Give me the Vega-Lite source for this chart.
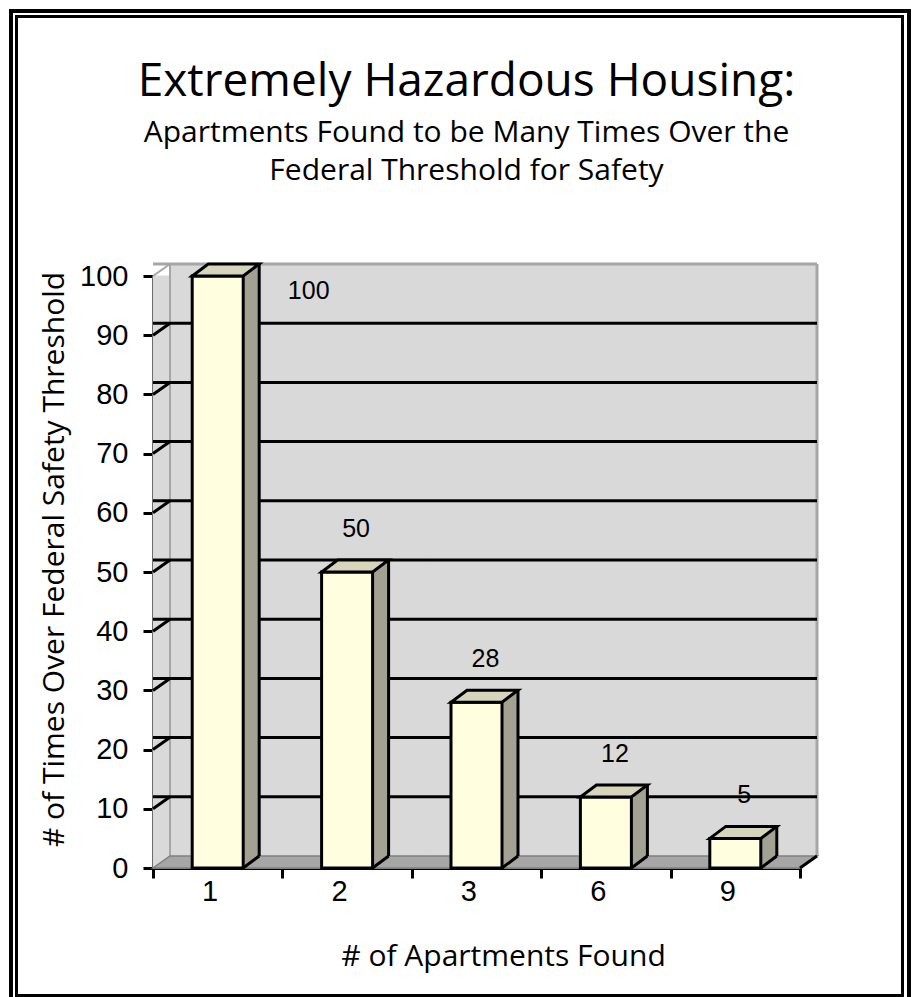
{
  "$schema": "https://vega.github.io/schema/vega-lite/v6.json",
  "autosize": "none",
  "width": 647,
  "height": 592,
  "padding": {"left": 153, "top": 276, "right": 113, "bottom": 129},
  "background": "white",
  "config": {"view": {"stroke": null}},
  "title": {
    "text": "Extremely Hazardous Housing:",
    "subtitle": ["Apartments Found to be Many Times Over the", "Federal Threshold for Safety"],
    "font": "Open Sans",
    "fontSize": 46,
    "fontWeight": "normal",
    "color": "black",
    "subtitleFont": "Open Sans",
    "subtitleFontSize": 30,
    "subtitleLineHeight": 38,
    "subtitleColor": "black",
    "subtitlePadding": 12,
    "anchor": "middle",
    "offset": -184,
    "dx": -10
  },
  "datasets": {
    "bars": [
      {"apartments": "1", "value": 100},
      {"apartments": "2", "value": 50},
      {"apartments": "3", "value": 28},
      {"apartments": "6", "value": 12},
      {"apartments": "9", "value": 5}
    ],
    "grid": [{"v": 10}, {"v": 20}, {"v": 30}, {"v": 40}, {"v": 50}, {"v": 60}, {"v": 70}, {"v": 80}, {"v": 90}],
    "one": [{"k": 1}]
  },
  "data": {"name": "bars"},
  "layer": [
    {
      "data": {"name": "one"},
      "mark": {"type": "point", "shape": "M-142,-265 L756,-265 L756,725 L-142,725 Z", "size": 4, "filled": false, "stroke": "black", "strokeWidth": 4, "opacity": 1},
      "encoding": {
        "x": {"datum": "1", "type": "nominal", "bandPosition": 0},
        "y": {"datum": 100, "type": "quantitative"}
      }
    },
    {
      "data": {"name": "one"},
      "mark": {"type": "point", "shape": "M-136.5,-259.5 L749.5,-259.5 L749.5,719.5 L-136.5,719.5 Z", "size": 4, "filled": false, "stroke": "black", "strokeWidth": 3, "opacity": 1},
      "encoding": {
        "x": {"datum": "1", "type": "nominal", "bandPosition": 0},
        "y": {"datum": 100, "type": "quantitative"}
      }
    },
    {
      "mark": {"type": "bar", "fill": "#d9d9d9", "stroke": "#d9d9d9", "strokeWidth": 1},
      "encoding": {
        "x": {"field": "apartments", "type": "nominal"},
        "y": {"datum": 100, "type": "quantitative"},
        "y2": {"datum": 0}
      }
    },
    {
      "mark": {"type": "bar", "fill": "#d9d9d9", "stroke": "#d9d9d9", "strokeWidth": 1, "xOffset": 17, "yOffset": -12, "y2Offset": -12},
      "encoding": {
        "x": {"field": "apartments", "type": "nominal"},
        "y": {"datum": 100, "type": "quantitative"},
        "y2": {"datum": 0}
      }
    },
    {
      "data": {"name": "one"},
      "mark": {"type": "rule", "stroke": "#a6a6a6", "strokeWidth": 3, "xOffset": 17, "x2Offset": 17, "yOffset": -12, "y2Offset": -12},
      "encoding": {
        "y": {"datum": 100, "type": "quantitative"}
      }
    },
    {
      "data": {"name": "one"},
      "mark": {"type": "rule", "stroke": "#a6a6a6", "strokeWidth": 3, "xOffset": 17, "yOffset": -12, "y2Offset": -12},
      "encoding": {
        "x": {"datum": "9", "type": "nominal", "bandPosition": 1},
        "y": {"datum": 100, "type": "quantitative"},
        "y2": {"datum": 0}
      }
    },
    {
      "data": {"name": "one"},
      "mark": {"type": "rule", "stroke": "#a6a6a6", "strokeWidth": 2, "xOffset": 17, "yOffset": -12, "y2Offset": -12},
      "encoding": {
        "x": {"datum": "1", "type": "nominal", "bandPosition": 0},
        "y": {"datum": 100, "type": "quantitative"},
        "y2": {"datum": 0}
      }
    },
    {
      "data": {"name": "one"},
      "mark": {"type": "point", "shape": "M0,0 L17,-12", "size": 4, "filled": false, "stroke": "#a6a6a6", "strokeWidth": 2, "opacity": 1},
      "encoding": {
        "x": {"datum": "1", "type": "nominal", "bandPosition": 0},
        "y": {"datum": 100, "type": "quantitative"}
      }
    },
    {
      "data": {"name": "one"},
      "mark": {"type": "point", "shape": "M0,0 L647,0 L664,-12 L17,-12 Z", "size": 4, "filled": true, "fill": "#a6a6a6", "stroke": "#808080", "strokeWidth": 1.5, "opacity": 1},
      "encoding": {
        "x": {"datum": "1", "type": "nominal", "bandPosition": 0},
        "y": {"datum": 0, "type": "quantitative"}
      }
    },
    {
      "data": {"name": "grid"},
      "mark": {"type": "rule", "stroke": "black", "strokeWidth": 3, "xOffset": 17, "x2Offset": 17, "yOffset": -12, "y2Offset": -12},
      "encoding": {
        "y": {"field": "v", "type": "quantitative"}
      }
    },
    {
      "data": {"name": "grid"},
      "mark": {"type": "point", "shape": "M0,0 L17,-12", "size": 4, "filled": false, "stroke": "black", "strokeWidth": 3, "opacity": 1},
      "encoding": {
        "x": {"datum": "1", "type": "nominal", "bandPosition": 0},
        "y": {"field": "v", "type": "quantitative"}
      }
    },
    {
      "mark": {"type": "bar", "width": 16, "xOffset": 33.5, "yOffset": -12, "y2Offset": -12, "fill": "#a3a191", "stroke": null},
      "encoding": {
        "x": {"field": "apartments", "type": "nominal"},
        "y": {"field": "value", "type": "quantitative"},
        "y2": {"datum": 0}
      }
    },
    {
      "mark": {"type": "point", "shape": "M25.5,0 L25.5,-12 L41.5,-12 Z", "size": 4, "filled": true, "fill": "#a3a191", "strokeWidth": 0, "opacity": 1},
      "encoding": {
        "x": {"field": "apartments", "type": "nominal"},
        "y": {"datum": 0, "type": "quantitative"}
      }
    },
    {
      "mark": {"type": "bar", "width": 51, "fill": "#ffffe0", "stroke": "black", "strokeWidth": 3},
      "encoding": {
        "x": {
          "field": "apartments",
          "type": "nominal",
          "scale": {"type": "band", "domain": ["1", "2", "3", "6", "9"], "paddingInner": 0, "paddingOuter": 0},
          "axis": {
            "title": "# of Apartments Found",
            "titleFont": "Open Sans",
            "titleFontSize": 30,
            "titleFontWeight": "normal",
            "titleColor": "black",
            "titleX": 350,
            "titleY": 97,
            "titleBaseline": "alphabetic",
            "titleAnchor": null,
            "labelFont": "Liberation Sans",
            "labelFontSize": 29,
            "labelColor": "black",
            "labelAngle": 0,
            "labelPadding": 13,
            "tickBand": "extent",
            "tickSize": 10,
            "tickWidth": 3,
            "tickColor": "black",
            "domainColor": "black",
            "domainWidth": 3
          }
        },
        "y": {
          "field": "value",
          "type": "quantitative",
          "scale": {"domain": [0, 100], "nice": false},
          "axis": {
            "title": "# of Times Over Federal Safety Threshold",
            "titleFont": "Open Sans",
            "titleFontSize": 30,
            "titleFontWeight": "normal",
            "titleColor": "black",
            "titleX": -90,
            "titleY": 283,
            "titleBaseline": "alphabetic",
            "titleAnchor": null,
            "values": [0, 10, 20, 30, 40, 50, 60, 70, 80, 90, 100],
            "grid": false,
            "labelFont": "Liberation Sans",
            "labelFontSize": 29,
            "labelColor": "black",
            "labelPadding": 15,
            "tickSize": 10,
            "tickWidth": 3,
            "tickColor": "black",
            "domainColor": "black",
            "domainWidth": 3
          }
        }
      }
    },
    {
      "mark": {"type": "point", "shape": "M-25.5,0 L25.5,0 L41.5,-12 L-9.5,-12 Z", "size": 4, "filled": true, "fill": "#d6d4bb", "stroke": "black", "strokeWidth": 3, "opacity": 1},
      "encoding": {
        "x": {"field": "apartments", "type": "nominal"},
        "y": {"field": "value", "type": "quantitative"}
      }
    },
    {
      "mark": {"type": "rule", "stroke": "black", "strokeWidth": 3, "xOffset": 41.5, "yOffset": -12, "y2Offset": -12},
      "encoding": {
        "x": {"field": "apartments", "type": "nominal"},
        "y": {"field": "value", "type": "quantitative"},
        "y2": {"datum": 0}
      }
    },
    {
      "mark": {"type": "point", "shape": "M25.5,0 L41.5,-12", "size": 4, "filled": false, "stroke": "black", "strokeWidth": 3, "opacity": 1},
      "encoding": {
        "x": {"field": "apartments", "type": "nominal"},
        "y": {"datum": 0, "type": "quantitative"}
      }
    },
    {
      "data": {"name": "one"},
      "mark": {"type": "point", "shape": "M0,0 L17,-12", "size": 4, "filled": false, "stroke": "black", "strokeWidth": 3, "opacity": 1},
      "encoding": {
        "x": {"datum": "9", "type": "nominal", "bandPosition": 1},
        "y": {"datum": 0, "type": "quantitative"}
      }
    },
    {
      "transform": [{"filter": "datum.value < 100"}],
      "mark": {"type": "text", "font": "Liberation Sans", "fontSize": 25, "color": "black", "baseline": "alphabetic", "align": "center", "dx": 9, "dy": -35},
      "encoding": {
        "x": {"field": "apartments", "type": "nominal"},
        "y": {"field": "value", "type": "quantitative"},
        "text": {"field": "value", "type": "quantitative"}
      }
    },
    {
      "transform": [{"filter": "datum.value == 100"}],
      "mark": {"type": "text", "font": "Liberation Sans", "fontSize": 25, "color": "black", "baseline": "alphabetic", "align": "center", "dx": 91, "dy": 23},
      "encoding": {
        "x": {"field": "apartments", "type": "nominal"},
        "y": {"field": "value", "type": "quantitative"},
        "text": {"field": "value", "type": "quantitative"}
      }
    }
  ]
}
